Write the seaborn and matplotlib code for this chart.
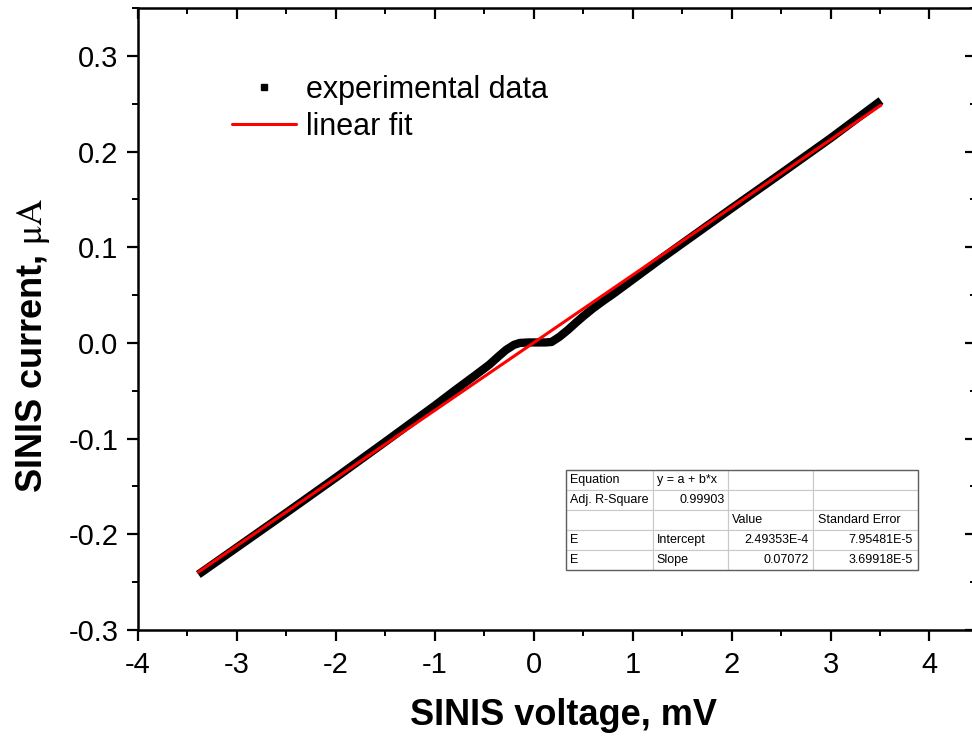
import matplotlib
matplotlib.use("Agg")
import matplotlib.pyplot as plt
import seaborn as sns
import numpy as np
import pandas as pd
from matplotlib.lines import Line2D
from matplotlib.ticker import MultipleLocator, FormatStrFormatter
from matplotlib.patches import Rectangle

# ---- data ----
exp_voltage = [-3.39, -3.0, -2.5, -2.0, -1.5, -1.0, -0.8, -0.6, -0.45, -0.35, -0.28,
               -0.2, -0.14, -0.05, 0.05, 0.12, 0.18, 0.26, 0.35, 0.43, 0.5, 0.6,
               0.7, 0.8, 1.0, 1.27, 1.5, 2.0, 2.5, 3.0, 3.51]
exp_current = [-0.2420, -0.2137, -0.1774, -0.1407, -0.1033, -0.0655, -0.0498, -0.0345,
               -0.0228, -0.0135, -0.0073, -0.0020, 0.0000, 0.0005, 0.0005, 0.0005,
               0.0010, 0.0064, 0.0140, 0.0215, 0.0278, 0.0362, 0.0438, 0.0510,
               0.0662, 0.0868, 0.1038, 0.1407, 0.1771, 0.2139, 0.2532]
fit_voltage = [-3.39, 3.51]
fit_current = [-0.2395, 0.2485]

x_ticks = [-4, -3, -2, -1, 0, 1, 2, 3, 4]
y_ticks = [-0.3, -0.2, -0.1, 0.0, 0.1, 0.2, 0.3]

table_rows = [
    ["Equation", "y = a + b*x", "", ""],
    ["Adj. R-Square", "0.99903", "", ""],
    ["", "", "Value", "Standard Error"],
    ["E", "Intercept", "2.49353E-4", "7.95481E-5"],
    ["E", "Slope", "0.07072", "3.69918E-5"],
]

sns.set_style("white")
plt.rcParams["font.family"] = ["Liberation Sans", "DejaVu Sans"]
plt.rcParams["axes.unicode_minus"] = False
plt.rcParams["mathtext.fontset"] = "stix"
plt.rcParams["text.color"] = "black"
plt.rcParams["axes.labelcolor"] = "black"

fig = plt.figure(figsize=(9.72, 7.42), dpi=100)
ax = fig.add_axes([138 / 972, (742 - 630) / 742, 838 / 972, 622 / 742])

df_exp = pd.DataFrame({"V": exp_voltage, "I": exp_current})
df_fit = pd.DataFrame({"V": fit_voltage, "I": fit_current})

sns.lineplot(data=df_exp, x="V", y="I", ax=ax, color="black", linewidth=6.0,
             sort=False, estimator=None, solid_capstyle="butt", zorder=2)
sns.lineplot(data=df_fit, x="V", y="I", ax=ax, color="#ff0000", linewidth=2.2,
             sort=False, estimator=None, zorder=3)

ax.set_xlim(-4, 4.47)
ax.set_ylim(-0.3, 0.35)
ax.set_xticks(x_ticks)
ax.set_yticks(y_ticks)
ax.xaxis.set_minor_locator(MultipleLocator(0.5))
ax.yaxis.set_minor_locator(MultipleLocator(0.05))
ax.xaxis.set_major_formatter(FormatStrFormatter("%d"))
ax.yaxis.set_major_formatter(FormatStrFormatter("%.1f"))

for s in ax.spines.values():
    s.set_linewidth(1.8)
    s.set_color("black")

ax.tick_params(axis="x", which="both", bottom=True, top=True, direction="out",
               labelsize=21, pad=7, colors="black")
ax.tick_params(axis="y", which="both", left=True, right=True, direction="out",
               labelsize=21, pad=6, colors="black")
ax.tick_params(which="major", length=8, width=1.6)
ax.tick_params(which="minor", length=4.5, width=1.4)
# inward ticks on top / right
for t in ax.xaxis.get_major_ticks() + ax.xaxis.get_minor_ticks():
    t.tick2line.set_marker(3)  # TICKDOWN
for t in ax.yaxis.get_major_ticks() + ax.yaxis.get_minor_ticks():
    t.tick2line.set_marker(0)  # TICKLEFT

ax.set_xlabel("SINIS voltage, mV", fontsize=26, fontweight="bold")
ax.set_ylabel(r"SINIS current, $\mathrm{μA}$", fontsize=26, fontweight="bold")
ax.xaxis.set_label_coords((563 - 138) / 838, (630 - 698) / 622)
ax.yaxis.set_label_coords((52 - 138) / 838, (630 - 345) / 622)

handles = [Line2D([], [], color="black", marker="s", markersize=4.5, linestyle="none"),
           Line2D([], [], color="#ff0000", linewidth=2.2)]
ax.legend(handles, ["experimental data", "linear fit"], loc="upper left",
          bbox_to_anchor=((232 - 138) / 838, (630 - 75) / 622), frameon=False,
          fontsize=22, handlelength=2.1, handletextpad=0.33, borderpad=0,
          borderaxespad=0, labelspacing=0.22, labelcolor="black")

# results table
x0 = (566 - 138) / 838
w = (918 - 566) / 838
y0 = (630 - 570) / 622
h = 100 / 622
tbl = ax.table(cellText=table_rows, colWidths=[87 / 352, 75 / 352, 85 / 352, 105 / 352],
               bbox=[x0, y0, w, h], cellLoc="left")
tbl.auto_set_font_size(False)
tbl.set_fontsize(9)
right_cells = {(1, 1), (3, 2), (4, 2), (3, 3), (4, 3)}
for (r, c), cell in tbl.get_celld().items():
    cell.set_edgecolor("#c8c8c8")
    cell.set_linewidth(0.8)
    cell.PAD = 0.05
    cell.set_facecolor("white")
    cell.get_text().set_color("black")
    if (r, c) in right_cells:
        cell._loc = "right"
        cell.get_text().set_horizontalalignment("right")
ax.add_patch(Rectangle((x0, y0), w, h, transform=ax.transAxes, fill=False,
                       edgecolor="#606060", linewidth=1.0, zorder=10))

fig.savefig("out.png", dpi=100)
